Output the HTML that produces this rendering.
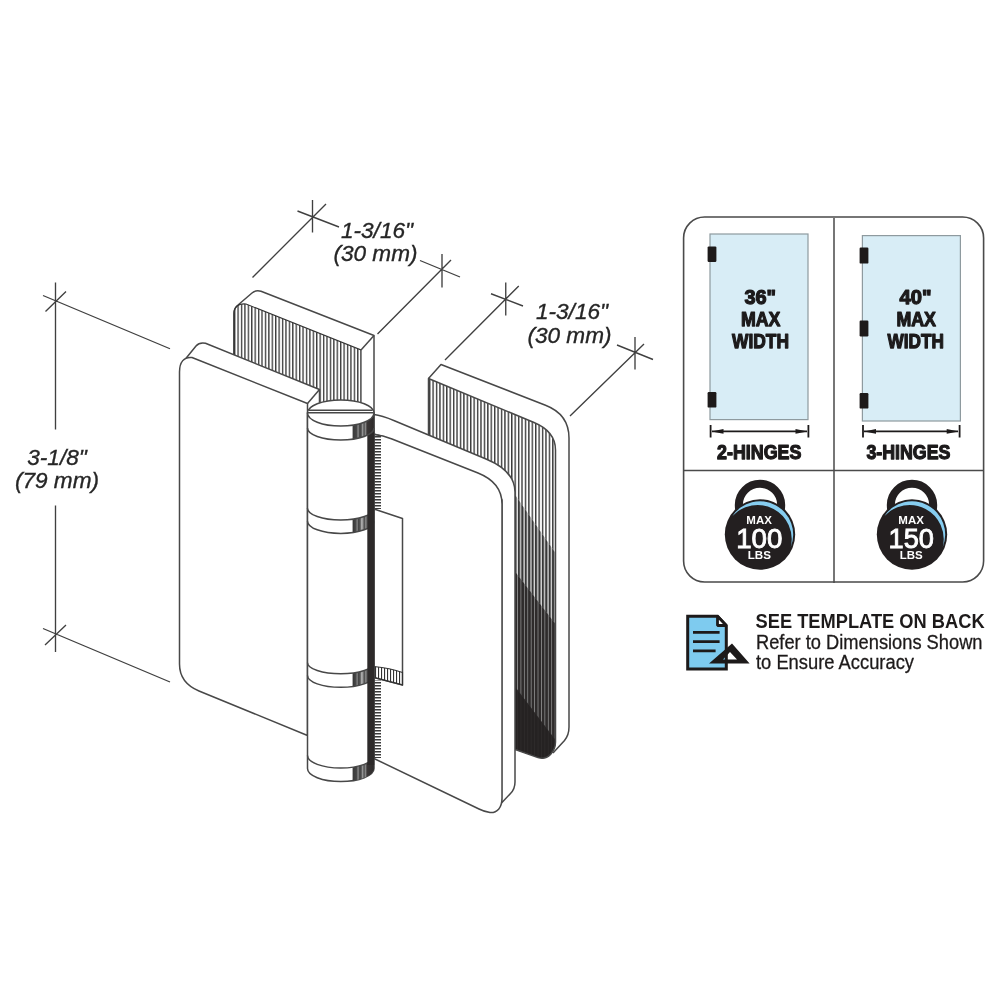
<!DOCTYPE html>
<html lang="en">
<head>
<meta charset="utf-8">
<title>Hinge dimensions</title>
<style>
html,body{margin:0;padding:0;background:#fff;}
body{width:1000px;height:1000px;overflow:hidden;}
svg{display:block;will-change:transform;}
.ln{fill:none;stroke:#484848;stroke-width:1.5;stroke-linecap:butt;stroke-linejoin:round;}
.dim{fill:none;stroke:#404040;stroke-width:1.35;}
.wf{fill:#fff;stroke:#484848;stroke-width:1.5;stroke-linejoin:round;}
.it{font-family:"Liberation Sans",sans-serif;font-style:italic;font-size:22.6px;fill:#262626;stroke:#262626;stroke-width:0.35px;}
.bc{font-family:"Liberation Sans",sans-serif;font-weight:bold;font-size:20.6px;fill:#1c1a1b;stroke:#1c1a1b;stroke-width:1.25;stroke-linejoin:round;}
.wt{font-family:"Liberation Sans",sans-serif;font-weight:bold;fill:#fff;}
</style>
</head>
<body>
<svg width="1000" height="1000" viewBox="0 0 1000 1000">
<defs>
<pattern id="h1" patternUnits="userSpaceOnUse" x="234" y="0" width="3.42" height="10">
<rect x="0" y="0" width="1.35" height="10" fill="#3c3c3c"/>
</pattern>
<pattern id="h2" patternUnits="userSpaceOnUse" x="514.5" y="0" width="3.42" height="10">
<rect x="0" y="0" width="1.4" height="10" fill="#3a3a3a"/>
</pattern>
<pattern id="h3" patternUnits="userSpaceOnUse" x="514.5" y="0" width="3.42" height="10">
<rect x="0" y="0" width="2.1" height="10" fill="#383838"/>
</pattern>
<pattern id="h4" patternUnits="userSpaceOnUse" x="514.5" y="0" width="3.42" height="10">
<rect x="0" y="0" width="2.6" height="10" fill="#2e2b2b"/>
</pattern>
<pattern id="h5" patternUnits="userSpaceOnUse" x="514.5" y="0" width="3.42" height="10">
<rect x="0" y="0" width="3.1" height="10" fill="#252222"/>
</pattern>
<pattern id="kn" patternUnits="userSpaceOnUse" x="0" y="436" width="10" height="3">
<rect x="0" y="0" width="10" height="1.5" fill="#3a3a3a"/>
</pattern>
<pattern id="nh" patternUnits="userSpaceOnUse" x="375" y="0" width="3" height="10">
<rect x="0" y="0" width="1.1" height="10" fill="#333"/>
</pattern>
<linearGradient id="capg" x1="0" x2="1" y1="0" y2="0">
<stop offset="0" stop-color="#333"/>
<stop offset="0.22" stop-color="#4a4a4a"/>
<stop offset="0.30" stop-color="#8a8a8a"/>
<stop offset="0.38" stop-color="#444"/>
<stop offset="0.50" stop-color="#555"/>
<stop offset="0.58" stop-color="#aaa"/>
<stop offset="0.68" stop-color="#999"/>
<stop offset="0.76" stop-color="#444"/>
<stop offset="0.86" stop-color="#888"/>
<stop offset="1" stop-color="#444"/>
</linearGradient>
<linearGradient id="capg2" x1="0" x2="1" y1="0" y2="0">
<stop offset="0" stop-color="#3a3a3a"/>
<stop offset="0.18" stop-color="#444"/>
<stop offset="0.26" stop-color="#8a8a8a"/>
<stop offset="0.33" stop-color="#444"/>
<stop offset="0.40" stop-color="#4a4a4a"/>
<stop offset="0.47" stop-color="#999"/>
<stop offset="0.54" stop-color="#4a4a4a"/>
<stop offset="0.60" stop-color="#8a8a8a"/>
<stop offset="0.68" stop-color="#3a3636"/>
<stop offset="1" stop-color="#2d2a2a"/>
</linearGradient>
<clipPath id="rhclip">
<path id="rhpath" d="M428.5 378.5 L534 422.5 C546 427.5 555.5 436 555.5 450 L555.5 742 Q555.5 749 550.5 754.5 Q545.5 759.8 538 757.6 L514.5 749.3 L514.5 500 L428.5 500 Z"/>
</clipPath>
</defs>
<rect width="1000" height="1000" fill="#fff"/>

<!-- ===== back-left plate ===== -->
<g id="backleft">
<path class="wf" d="M234 356 L234 312 Q234.3 308 238 305 L252 293 Q256 289.6 261 291.3 L374 335.5 L374 420 L234 420 Z"/>
<path d="M234 356 L234 314 Q234 303 246 304 L361 350 L361 410 L234 410 Z" fill="url(#h1)" stroke="#333" stroke-width="1.15"/>
<path class="ln" d="M361 350 L374 335.5"/>
</g>

<!-- ===== back-right plate ===== -->
<g id="backright">
<path d="M428.5 378.5 L441 364.5 L545.5 405.2 C560.5 411 569 421 569 438 L569 727 Q569 735 564.5 740.5 L553 753 L550 450 L428.5 440 Z" fill="#fff"/>
<path class="ln" d="M428.5 378.5 L441 364.5 L545.5 405.2 C560.5 411 569 421 569 438 L569 727 Q569 735 564.5 740.5 L553 753"/>
<path d="M428.5 378.5 L534 422.5 C546 427.5 555.5 436 555.5 450 L555.5 742 Q555.5 749 550.5 754.5 Q545.5 759.8 538 757.6 L514.5 749.3 L514.5 500 L428.5 500 Z" fill="#fff"/>
<g clip-path="url(#rhclip)">
<rect x="420" y="370" width="140" height="400" fill="url(#h2)"/>
<path d="M514.5 494 L555.5 553 L555.5 770 L514.5 770 Z" fill="#dcdcdc"/>
<path d="M514.5 494 L555.5 553 L555.5 770 L514.5 770 Z" fill="url(#h3)"/>
<path d="M514.5 571 L555.5 624 L555.5 770 L514.5 770 Z" fill="#8a8a8a"/>
<path d="M514.5 571 L555.5 624 L555.5 770 L514.5 770 Z" fill="url(#h4)"/>
<path d="M514.5 686 L555.5 740 L555.5 770 L514.5 770 Z" fill="#3a3737"/>
<path d="M514.5 686 L555.5 740 L555.5 770 L514.5 770 Z" fill="url(#h5)"/>
</g>
<path class="ln" d="M428.5 436 L428.5 378.5 L534 422.5 C546 427.5 555.5 436 555.5 450 L555.5 742 Q555.5 749 550.5 754.5 Q545.5 759.8 538 757.6 L514.5 749.3"/>
</g>

<!-- ===== front-left plate ===== -->
<g id="frontleft">
<path class="wf" d="M183 362 L196 346 Q199.5 342 205.5 343.3 L319.5 389.5 L319.5 410 L183 410 Z"/>
<path class="wf" d="M179.5 372 C179.5 362 184 356.5 192 357.5 L307.5 403.5 L307.5 735.5 L199 691 C187 686 179.5 678 179.5 664 Z"/>
<path class="ln" d="M307.5 403.5 L319.5 389.5"/>
</g>

<!-- ===== front-right plate ===== -->
<g id="frontright">
<path class="wf" d="M374 414.5 C380 415 388 418 395 421 L486 459 C503 466 515 476 515 492 L515 782 Q515 789 510.5 793.5 L501.5 803 L502 500 L381 436 L374 434 Z"/>
<path class="wf" d="M374 434.5 C380 435 386 436.5 392 439 L478 473 C493 479 502 489 502 504 L502 798 C502 808 497 813 490 812.5 C486 812 483 811 479 809 L375 759 L374 759 Z"/>
<rect x="374" y="436" width="7" height="73" fill="url(#kn)"/>
<rect x="374" y="680" width="7" height="78" fill="url(#kn)"/>
<path class="wf" d="M374 509 L402.5 518.5 L402.5 685 L374 677.5 Z"/>
<path d="M374 666.5 Q390 668 402.5 672.5 L402.5 685 L374 677.5 Z" fill="url(#nh)" stroke="#333" stroke-width="1.1"/>
</g>

<!-- ===== barrel ===== -->
<g id="barrel">
<path class="wf" d="M307.5 413 L307.5 768.5 A33.25 13 0 0 0 374.0 768.5 L374.0 413 Z"/>
<path d="M352.60 767.18 L354.38 766.90 L356.15 766.58 L357.93 766.20 L359.70 765.77 L361.48 765.27 L363.25 764.70 L365.02 764.04 L366.80 763.27 L368.57 762.34 L370.35 761.19 L372.12 759.64 L373.90 756.47 L373.90 769.51 L372.12 772.80 L370.35 774.42 L368.57 775.62 L366.80 776.58 L365.02 777.38 L363.25 778.07 L361.48 778.67 L359.70 779.18 L357.93 779.63 L356.15 780.02 L354.38 780.36 L352.60 780.65 Z" fill="url(#capg2)"/>
<path class="ln" d="M307.5 755.5 A33.25 12.5 0 0 0 374.0 755.5"/>
<path d="M352.60 673.08 L353.87 672.91 L355.13 672.72 L356.40 672.51 L357.67 672.27 L358.93 672.01 L360.20 671.72 L361.47 671.40 L362.73 671.05 L364.00 670.66 L365.27 670.23 L366.53 669.75 L367.80 669.20 L367.80 682.36 L366.53 682.95 L365.27 683.47 L364.00 683.94 L362.73 684.35 L361.47 684.73 L360.20 685.07 L358.93 685.38 L357.67 685.66 L356.40 685.91 L355.13 686.14 L353.87 686.34 L352.60 686.53 Z" fill="url(#capg)"/>
<path class="ln" d="M307.5 662.8 A33.25 11.0 0 0 0 374.0 662.8"/>
<path class="ln" d="M307.5 675.5 A33.25 11.8 0 0 0 374.0 675.5"/>
<path d="M352.60 519.23 L353.87 519.04 L355.13 518.84 L356.40 518.61 L357.67 518.36 L358.93 518.08 L360.20 517.77 L361.47 517.43 L362.73 517.05 L364.00 516.64 L365.27 516.17 L366.53 515.65 L367.80 515.06 L367.80 528.29 L366.53 528.90 L365.27 529.44 L364.00 529.92 L362.73 530.35 L361.47 530.74 L360.20 531.09 L358.93 531.41 L357.67 531.70 L356.40 531.96 L355.13 532.20 L353.87 532.41 L352.60 532.60 Z" fill="url(#capg)"/>
<path class="ln" d="M307.5 508.2 A33.25 11.8 0 0 0 374.0 508.2"/>
<path class="ln" d="M307.5 521.2 A33.25 12.2 0 0 0 374.0 521.2"/>
<rect x="367.3" y="430" width="6.9" height="335" fill="#2d2a2a"/>
<path d="M352.60 425.15 L354.38 424.86 L356.15 424.52 L357.93 424.13 L359.70 423.68 L361.48 423.17 L363.25 422.57 L365.02 421.88 L366.80 421.08 L368.57 420.12 L370.35 418.92 L372.12 417.30 L373.90 414.01 L373.90 428.93 L372.12 431.97 L370.35 433.47 L368.57 434.57 L366.80 435.46 L365.02 436.20 L363.25 436.84 L361.48 437.38 L359.70 437.86 L357.93 438.28 L356.15 438.64 L354.38 438.95 L352.60 439.21 Z" fill="url(#capg2)"/>
<path class="ln" d="M307.5 428 A33.25 12 0 0 0 374.0 428"/>
<ellipse class="wf" cx="340.75" cy="413" rx="33.25" ry="13"/>
<path class="ln" d="M309 410.2 L372.6 410.2 M307.8 412.8 L373.8 412.8"/>
</g>

<!-- ===== dimensions ===== -->
<g id="dims" class="dim">
<path d="M55.5 282.5 L55.5 429.5 M55.5 505.5 L55.5 652"/>
<path d="M45.5 311.5 L66 291.5 M43 295.5 L170 348.75"/>
<path d="M45 645 L66 625 M43 628.5 L170 682"/>
<path d="M312.5 200 L312.5 232.5 M297.5 211 L339 227 M326 204 L252.5 277.5"/>
<path d="M442 254 L442 287.5 M420 260.5 L460 277 M451 260 L377.5 334"/>
<path d="M505.75 282.5 L505.75 315.5 M491 293.75 L523 306 M518.75 286 L445 360"/>
<path d="M635 337 L635 369.5 M617 345 L653 359.5 M644 344 L570 416"/>
</g>
<g id="dimtext">
<text class="it" x="57" y="464.5" text-anchor="middle">3-1/8"</text>
<text class="it" x="57" y="488" text-anchor="middle">(79 mm)</text>
<text class="it" x="377" y="238" text-anchor="middle">1-3/16"</text>
<text class="it" x="375.5" y="261" text-anchor="middle">(30 mm)</text>
<text class="it" x="572" y="319" text-anchor="middle">1-3/16"</text>
<text class="it" x="569.5" y="342.5" text-anchor="middle">(30 mm)</text>
</g>

<!-- ===== info panel ===== -->
<g id="panel">
<rect x="683.6" y="217" width="300" height="365" rx="21" ry="21" fill="#fff" stroke="#4a4a4a" stroke-width="1.6"/>
<path d="M834 218 L834 583 M684 470.6 L984 470.6" fill="none" stroke="#4a4a4a" stroke-width="1.5"/>
<rect x="710" y="234" width="98" height="185.6" fill="#d8edf6" stroke="#8e9a9f" stroke-width="1.2"/>
<rect x="862.4" y="235.6" width="98" height="185.4" fill="#d8edf6" stroke="#8e9a9f" stroke-width="1.2"/>
<g fill="#1d1a1a">
<rect x="707.6" y="246.4" width="8.8" height="15.6" rx="1.2"/>
<rect x="707.6" y="392" width="8.8" height="15.6" rx="1.2"/>
<rect x="859.6" y="247.6" width="8.8" height="16" rx="1.2"/>
<rect x="859.6" y="320.6" width="8.8" height="15.8" rx="1.2"/>
<rect x="859.6" y="393" width="8.8" height="15.6" rx="1.2"/>
</g>
<text class="bc" x="760.2" y="304.4" text-anchor="middle" textLength="31.6" lengthAdjust="spacingAndGlyphs">36"</text>
<text class="bc" x="760.7" y="325.6" text-anchor="middle" textLength="39.4" lengthAdjust="spacingAndGlyphs">MAX</text>
<text class="bc" x="760.5" y="348" text-anchor="middle" textLength="57" lengthAdjust="spacingAndGlyphs">WIDTH</text>
<text class="bc" x="915.6" y="304.4" text-anchor="middle" textLength="32" lengthAdjust="spacingAndGlyphs">40"</text>
<text class="bc" x="916.2" y="325.6" text-anchor="middle" textLength="39.6" lengthAdjust="spacingAndGlyphs">MAX</text>
<text class="bc" x="915.8" y="348" text-anchor="middle" textLength="56.4" lengthAdjust="spacingAndGlyphs">WIDTH</text>
<text class="bc" x="759.2" y="459.4" text-anchor="middle" textLength="84.4" lengthAdjust="spacingAndGlyphs">2-HINGES</text>
<text class="bc" x="908.4" y="459.4" text-anchor="middle" textLength="84" lengthAdjust="spacingAndGlyphs">3-HINGES</text>
<!-- arrows -->
<g stroke="#1d1a1a" stroke-width="1.8" fill="#1d1a1a">
<path d="M710.6 425 V437.6 M808.4 425 V437.6 M712 431.4 H807"/>
<path d="M711.5 431.4 L723.5 429 L723.5 433.8 Z M807.5 431.4 L795.5 429 L795.5 433.8 Z" stroke="none"/>
<path d="M863 425 V437.6 M959.6 425 V437.6 M864 431.4 H958"/>
<path d="M864 431.4 L876 429 L876 433.8 Z M958.7 431.4 L946.7 429 L946.7 433.8 Z" stroke="none"/>
</g>
<!-- weights -->
<g id="w1">
<ellipse cx="760" cy="505" rx="21.2" ry="21.2" fill="none" stroke="#231f20" stroke-width="8"/>
<circle cx="760" cy="534.5" r="35.2" fill="#231f20"/>
<path d="M732.48 515.93 A33.2 33.2 0 0 1 790.78 546.94 A34.14 34.14 0 0 0 732.48 515.93 Z" fill="#86cdf0"/>
<text class="wt" x="759.1" y="523.8" font-size="11.6" text-anchor="middle" textLength="25.6" lengthAdjust="spacingAndGlyphs">MAX</text>
<text class="wt" x="759.3" y="547.8" font-size="28" text-anchor="middle" textLength="46.2" lengthAdjust="spacingAndGlyphs" style="font-weight:normal" stroke="#fff" stroke-width="0.9">100</text>
<text class="wt" x="759.3" y="559.2" font-size="11.6" text-anchor="middle" textLength="23.2" lengthAdjust="spacingAndGlyphs">LBS</text>
</g>
<g id="w2">
<ellipse cx="912" cy="505" rx="21.2" ry="21.2" fill="none" stroke="#231f20" stroke-width="8"/>
<circle cx="912" cy="534.5" r="35.2" fill="#231f20"/>
<path d="M884.48 515.93 A33.2 33.2 0 0 1 942.78 546.94 A34.14 34.14 0 0 0 884.48 515.93 Z" fill="#86cdf0"/>
<text class="wt" x="911.1" y="523.8" font-size="11.6" text-anchor="middle" textLength="25.6" lengthAdjust="spacingAndGlyphs">MAX</text>
<text class="wt" x="911.3" y="547.8" font-size="28" text-anchor="middle" textLength="45.4" lengthAdjust="spacingAndGlyphs" style="font-weight:normal" stroke="#fff" stroke-width="0.9">150</text>
<text class="wt" x="911.2" y="559.2" font-size="11.6" text-anchor="middle" textLength="23" lengthAdjust="spacingAndGlyphs">LBS</text>
</g>
</g>

<!-- ===== template note ===== -->
<g id="note">
<path d="M687.7 616.3 L717.5 616.3 L726.3 625.5 L726.3 669 L687.7 669 Z" fill="#7ecbef" stroke="#1d1a1a" stroke-width="3" stroke-linejoin="miter"/>
<path d="M717.5 616.3 L717.5 625.5 L726.3 625.5 Z" fill="#fff" stroke="#1d1a1a" stroke-width="2.8" stroke-linejoin="bevel"/>
<path d="M693 632.4 H719.6 M693 641.6 H719.6 M693 650.8 H715.6" stroke="#1d1a1a" stroke-width="2.8" fill="none"/>
<path d="M732 643.6 L749.6 663.6 L709 663.6 Z M730 652 L737 659.6 L723 659.6 Z" fill="#1d1a1a" fill-rule="evenodd"/>
<text x="755.6" y="628" font-family="'Liberation Sans',sans-serif" font-weight="bold" font-size="20" fill="#1d1a1a" textLength="229" lengthAdjust="spacingAndGlyphs">SEE TEMPLATE ON BACK</text>
<text x="756" y="648.6" font-family="'Liberation Sans',sans-serif" font-size="20" fill="#1d1a1a" stroke="#1d1a1a" stroke-width="0.3" textLength="226.5" lengthAdjust="spacingAndGlyphs">Refer to Dimensions Shown</text>
<text x="756" y="669.2" font-family="'Liberation Sans',sans-serif" font-size="20" fill="#1d1a1a" stroke="#1d1a1a" stroke-width="0.3" textLength="158" lengthAdjust="spacingAndGlyphs">to Ensure Accuracy</text>
</g>
</svg>
</body>
</html>
